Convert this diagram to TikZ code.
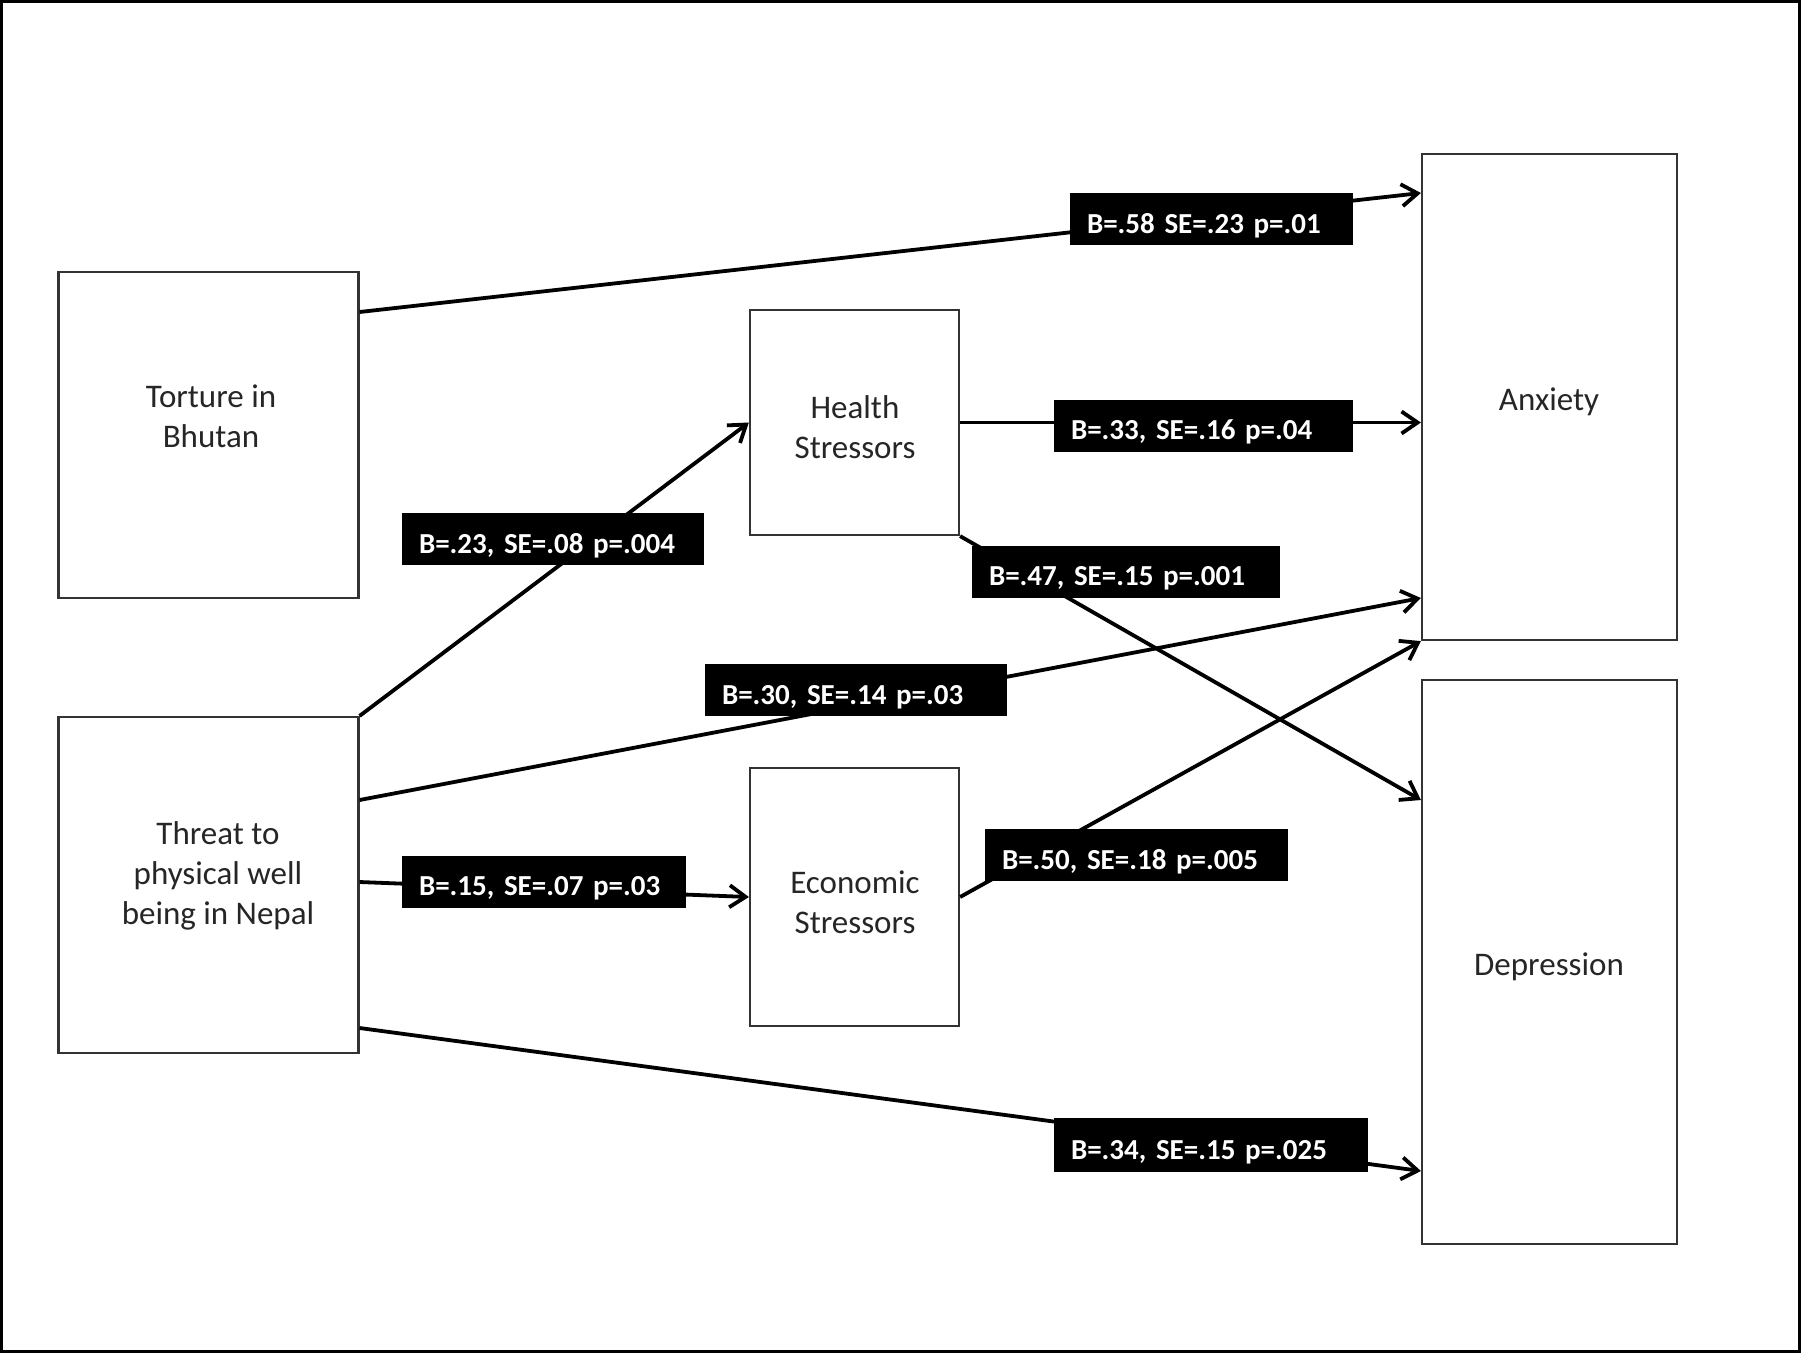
\documentclass[tikz,border=0pt]{standalone}
\usepackage{fontspec}
\setmainfont{Carlito}
\usetikzlibrary{arrows.meta}
\begin{document}
\begin{tikzpicture}[x=1pt,y=-1pt,
  vbox/.style={draw=black!80,line width=2.2pt,fill=white,inner sep=0pt},
  vtext/.style={font=\fontsize{33}{40}\selectfont,text=black!85,align=center,inner sep=0pt},
  lab/.style={fill=black,text=white,font=\fontsize{29}{34}\selectfont\bfseries,align=left,inner xsep=17pt,inner ysep=0pt,minimum height=52pt,text height=29pt,text depth=1pt},
  conn/.style={line width=3.8pt,-{Straight Barb[length=16pt,width=22pt,line width=3.8pt]}}]
\useasboundingbox (0,0) rectangle (1801,1353);
\draw[line width=3pt] (1.5,1.5) rectangle (1799.5,1351.5);

% boxes
\node[vbox,minimum width=300pt,minimum height=326pt] (tort) at (208.5,435) {};
\node[vbox,minimum width=300pt,minimum height=336pt] (thr) at (208.5,885) {};
\node[vbox,minimum width=209pt,minimum height=225pt] (hea) at (854.5,422.5) {};
\node[vbox,minimum width=209pt,minimum height=258pt] (eco) at (854.5,897) {};
\node[vbox,minimum width=255pt,minimum height=486pt] (anx) at (1549.5,397) {};
\node[vbox,minimum width=255pt,minimum height=564pt] (dep) at (1549.5,962) {};

\node[vtext] (tortT) at (211,416) {Torture in\\Bhutan};
\node[vtext] (thrT) at (218,876) {Threat to\\physical well\\being in Nepal};
\node[vtext] (heaT) at (855,427) {Health\\Stressors};
\node[vtext] (ecoT) at (855,902) {Economic\\Stressors};
\node[vtext] (anxT) at (1549,402) {Anxiety};
\node[vtext] (depT) at (1549,967) {Depression};

% connectors
\draw[conn] ([yshift=123pt]tort.east) -- ([yshift=204pt]anx.west);
\draw[conn] (hea.east) -- (hea.east -| anx.west);
\draw[conn] (thr.north east) -- (hea.west);
\draw[conn] (hea.south east) -- ([yshift=162pt]dep.west);
\draw[conn] ([yshift=85pt]thr.east) -- ([yshift=-201pt]anx.west);
\draw[conn] ([yshift=3pt]thr.east) -- (eco.west);
\draw[conn] (eco.east) -- (anx.south west);
\draw[conn] ([yshift=-143pt]thr.east) -- ([yshift=-209pt]dep.west);

% labels
\node[lab,text width=249pt] (l1) at (1211.5,219) {B=.58 SE=.23 p=.01};
\node[lab,text width=265pt] (l2) at (1203.5,425.5) {B=.33, SE=.16 p=.04};
\node[lab,text width=268pt] (l3) at (553,539) {B=.23, SE=.08 p=.004};
\node[lab,text width=274pt] (l4) at (1126,571.5) {B=.47, SE=.15 p=.001};
\node[lab,text width=268pt] (l5) at (856,690) {B=.30, SE=.14 p=.03};
\node[lab,text width=250pt] (l6) at (544,881.5) {B=.15, SE=.07 p=.03};
\node[lab,text width=269pt] (l7) at (1136.5,855) {B=.50, SE=.18 p=.005};
\node[lab,text width=280pt,minimum height=54pt] (l8) at (1211,1145) {B=.34, SE=.15 p=.025};
\end{tikzpicture}
\end{document}
